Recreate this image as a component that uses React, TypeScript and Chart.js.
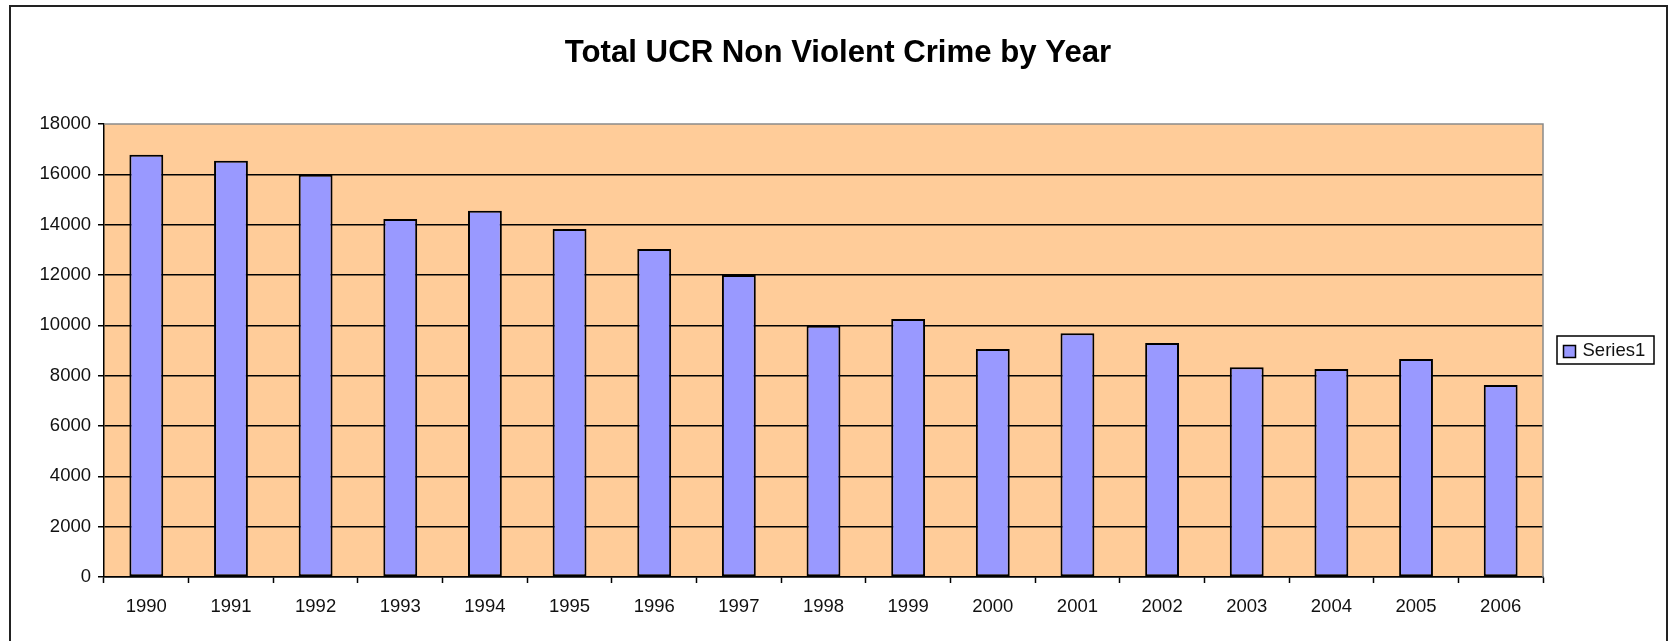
import React, { useEffect, useRef } from "react";
import { Chart, registerables } from "chart.js";

Chart.register(...registerables);

const years = ["1990","1991","1992","1993","1994","1995","1996","1997","1998","1999","2000","2001","2002","2003","2004","2005","2006"];
const crimeTotals = [16780, 16540, 15980, 14230, 14550, 13830, 13030, 12000, 9980, 10250, 9060, 9690, 9300, 8330, 8260, 8660, 7630];
const seriesName = "Series1";
const chartTitle = "Total UCR Non Violent Crime by Year";
const yMin = 0;
const yMax = 18000;
const yStep = 2000;

const FONT = "'Liberation Sans', Arial, sans-serif";
const BAR_FILL = "#9999FF";
const PLOT_BG = "#FFCC99";

const decorPlugin = {
  id: "decor",
  beforeDraw(chart: any) {
    const { ctx, chartArea } = chart;
    ctx.save();
    ctx.fillStyle = "#ffffff";
    ctx.fillRect(0, 0, chart.width, chart.height);
    // outer frame
    ctx.strokeStyle = "#222";
    ctx.lineWidth = 2;
    ctx.strokeRect(10, 6, 1657, 700);
    // plot background
    ctx.fillStyle = PLOT_BG;
    ctx.fillRect(chartArea.left, chartArea.top, chartArea.right - chartArea.left, chartArea.bottom - chartArea.top);
    ctx.restore();
  },
  beforeDatasetsDraw(chart: any) {
    const { ctx, chartArea } = chart;
    ctx.save();
    ctx.strokeStyle = "#8a8a8a";
    ctx.lineWidth = 1.5;
    ctx.beginPath();
    ctx.moveTo(chartArea.left, chartArea.top);
    ctx.lineTo(chartArea.right, chartArea.top);
    ctx.lineTo(chartArea.right, chartArea.bottom);
    ctx.stroke();
    ctx.restore();
  },
  afterDraw(chart: any) {
    const { ctx } = chart;
    const ds = chart.data.datasets[0];
    ctx.save();
    // title
    ctx.fillStyle = "#000";
    ctx.font = `bold 31.2px ${FONT}`;
    ctx.textAlign = "center";
    ctx.textBaseline = "middle";
    ctx.fillText(chartTitle, 838, 53);
    // legend box
    const lx = 1557, ly = 336, lw = 97, lh = 28;
    ctx.fillStyle = "#fff";
    ctx.fillRect(lx, ly, lw, lh);
    ctx.strokeStyle = "#000";
    ctx.lineWidth = 1.5;
    ctx.strokeRect(lx, ly, lw, lh);
    // swatch
    ctx.fillStyle = BAR_FILL;
    ctx.fillRect(lx + 6.5, ly + 9.5, 12, 12);
    ctx.strokeRect(lx + 6.5, ly + 9.5, 12, 12);
    // text
    ctx.fillStyle = "#111";
    ctx.font = `18.5px ${FONT}`;
    ctx.textBaseline = "middle";
    ctx.textAlign = "left";
    ctx.fillText(ds.label, lx + 25.5, ly + lh / 2 + 1);
    ctx.restore();
  },
};

export default function App() {
  const canvasRef = useRef<HTMLCanvasElement | null>(null);

  useEffect(() => {
    document.body.style.margin = "0";
    const canvas = canvasRef.current;
    if (!canvas) return;
    const chart = new Chart(canvas, {
      type: "bar",
      data: {
        labels: years,
        datasets: [
          {
            label: seriesName,
            data: crimeTotals,
            backgroundColor: BAR_FILL,
            borderColor: "#000",
            borderWidth: 2,
            borderSkipped: false,
            barPercentage: 0.4,
            categoryPercentage: 1,
          },
        ],
      },
      options: {
        animation: false,
        responsive: false,
        maintainAspectRatio: false,
        devicePixelRatio: 1,
        layout: { padding: { left: 0, right: 130, top: 124, bottom: 0 } },
        plugins: {
          legend: { display: false },
          tooltip: { enabled: false },
          title: { display: false },
        },
        scales: {
          x: {
            afterFit: (s: any) => { s.height = 64; },
            grid: {
              display: true,
              drawOnChartArea: false,
              drawTicks: true,
              tickLength: 6,
              tickColor: "#000",
              tickWidth: 1.5,
              offset: true,
            },
            border: { display: true, color: "#000", width: 1.5 },
            ticks: {
              color: "#111",
              font: { family: FONT, size: 18.5 },
              padding: 13,
              maxRotation: 0,
              autoSkip: false,
            },
          },
          y: {
            min: yMin,
            max: yMax,
            afterFit: (s: any) => { s.width = 104; },
            grid: {
              color: (c: any) => (c.tick && c.tick.value === yMax ? "rgba(0,0,0,0)" : "#000"),
              lineWidth: 1.5,
              tickLength: 6,
              tickColor: "#000",
              tickWidth: 1.5,
            },
            border: { display: true, color: "#000", width: 1.5 },
            ticks: {
              stepSize: yStep,
              color: "#111",
              font: { family: FONT, size: 18.5 },
              padding: 7,
              callback: (v: any) => String(v),
            },
          },
        },
      },
      plugins: [decorPlugin],
    });
    return () => chart.destroy();
  }, []);

  return (
    <div style={{ position: "fixed", left: 0, top: 0, width: 1673, height: 641, background: "#fff" }}>
      <canvas ref={canvasRef} width={1673} height={641} style={{ width: 1673, height: 641, display: "block" }} />
    </div>
  );
}
